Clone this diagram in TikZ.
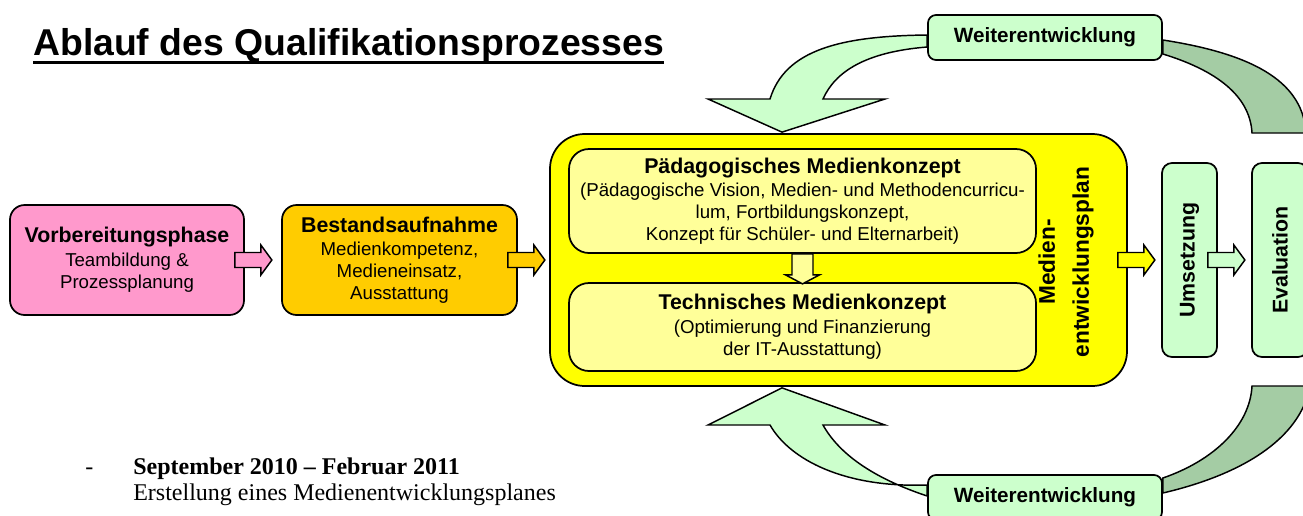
\documentclass[tikz,border=0pt]{standalone}
\usepackage{fontspec}
\setmainfont{Liberation Sans}
\newfontfamily\serifschrift{Liberation Serif}
\usetikzlibrary{calc,backgrounds}

\tikzset{
  kasten/.style={draw, line width=1.3pt, align=center, inner sep=0pt},
  blockpfeil/.style={draw, line width=1.1pt, line join=miter},
  bogen/.style={draw, line width=1.1pt},
}

\begin{document}
\begin{tikzpicture}[x=0.75pt, y=-0.75pt]
  % Farben
  \definecolor{rosa}{HTML}{FF99CC}
  \definecolor{orange}{HTML}{FFCC00}
  \definecolor{gelb}{HTML}{FFFF00}
  \definecolor{hellgelb}{HTML}{FFFF99}
  \definecolor{hellgruen}{HTML}{CCFFCC}
  \definecolor{dunkelgruen}{HTML}{A4CCA4}

  % Schriften
  \def\fett{\fontsize{16}{18}\selectfont\bfseries}
  \def\normal{\fontsize{14}{16.5}\selectfont}
  \def\serif{\serifschrift\fontsize{18}{20}\selectfont}

  \useasboundingbox (0,0) rectangle (1303,515);
  \clip (0,0) rectangle (1303,515);

  % Titel
  \node[anchor=base west, inner sep=0pt, font=\fontsize{28}{30}\selectfont\bfseries] (titel) at (33,55) {Ablauf des Qualifikationsprozesses};
  \draw[line width=2.25pt] ($(titel.base west)+(0,7)$) -- ($(titel.base east)+(0,7)$);

  % Phasen
  \node[kasten, fill=rosa, rounded corners=11pt, minimum width=175.5pt, minimum height=82.5pt, font=\normal] (vorb) at (127,260)
    {{\fett Vorbereitungsphase}\\[1.5pt] Teambildung \&\\ Prozessplanung};
  \node[kasten, fill=orange, rounded corners=11pt, minimum width=176.25pt, minimum height=82.5pt, font=\normal] (best) at (399.5,260)
    {{\fett Bestandsaufnahme}\\[0.5pt] Medienkompetenz,\\ Medieneinsatz,\\ Ausstattung};

  % Medienentwicklungsplan
  \node[kasten, fill=gelb, rounded corners=26pt, minimum width=432.75pt, minimum height=189pt] (plan) at (838.5,260) {};
  \node[kasten, fill=hellgelb, rounded corners=15pt, minimum width=350.25pt, minimum height=78pt, font=\normal] (paed) at (802.5,201)
    {{\fett Pädagogisches Medienkonzept}\\[0.5pt] (Pädagogische Vision, Medien- und Methodencurricu-\\ lum, Fortbildungskonzept,\\ Konzept für Schüler- und Elternarbeit)};
  \node[kasten, fill=hellgelb, rounded corners=15pt, minimum width=350.25pt, minimum height=66pt, font=\normal] (tech) at (802.5,327)
    {{\fett Technisches Medienkonzept}\\[1.5pt] (Optimierung und Finanzierung\\ der IT-Ausstattung)};
  \node[rotate=90, align=center, font=\fontsize{17}{25.5}\selectfont\bfseries] (planText) at (1066,262) {Medien-\\entwicklungsplan};

  % Umsetzung und Evaluation
  \node[kasten, fill=hellgruen, rounded corners=7.5pt, minimum width=41.25pt, minimum height=145.5pt] (ums) at (1189.5,260) {};
  \node[rotate=90, font=\fett] (umsText) at (ums) {Umsetzung};
  \node[kasten, fill=hellgruen, rounded corners=7.5pt, minimum width=42pt, minimum height=145.5pt] (eval) at (1280,260) {};
  \node[rotate=90, font=\fett] (evalText) at (eval) {Evaluation};

  % Weiterentwicklung
  \node[kasten, fill=hellgruen, rounded corners=6pt, minimum width=175.5pt, minimum height=33.75pt, font=\fontsize{15.5}{17}\selectfont\bfseries] (weiterOben) at (1045,37.5) {Weiterentwicklung};
  \node[kasten, fill=hellgruen, rounded corners=6pt, minimum width=175.5pt, minimum height=33.75pt, font=\fontsize{15.5}{17}\selectfont\bfseries] (weiterUnten) at (1045,497.5) {Weiterentwicklung};

  % Blockpfeile
  \foreach \von/\farbe in {vorb/rosa, best/orange, plan/gelb, ums/hellgruen}
    \draw[blockpfeil, fill=\farbe] ($(\von.east)+(-10,-7.5)$) -- ++(26,0) -- ++(0,-7.5) -- ++(11,15) -- ++(-11,15) -- ++(0,-7.5) -- ++(-26,0) -- cycle;
  \draw[blockpfeil, fill=hellgelb] ($(paed.south)+(-10.5,0)$) -- ++(0,21) -- ++(-6.5,0) -- ++(17,9) -- ++(17,-9) -- ++(-6.5,0) -- ++(0,-21) -- cycle;

  % Kreislauf
  \begin{pgfonlayer}{background}
    \coordinate (spitzeOben) at ($(plan.north)+(-56.5,-1)$);
    \coordinate (spitzeUnten) at ($(plan.south)+(-56.5,1)$);
    \draw[bogen, fill=hellgruen] ($(weiterOben.west)+(0,-2.5)$) .. controls (840,36) and (785,50) .. (770,99) -- (708,99) -- (spitzeOben)
      -- (885,99) -- (823,99) .. controls (835,72) and (865,52) .. ($(weiterOben.west)+(0,9.5)$) -- cycle;
    \draw[bogen, fill=hellgruen] ($(weiterUnten.west)+(0,-1.5)$) .. controls (870,477) and (838,452) .. (823,425) -- (885,425) -- (spitzeUnten)
      -- (708,425) -- (770,425) .. controls (790,460) and (845,488) .. ($(weiterUnten.west)+(0,-12.5)$) -- cycle;
    \draw[bogen, fill=dunkelgruen] ($(weiterOben.east)+(0,2.5)$) .. controls (1260,55) and (1303,85) .. (1306,133) -- (1252,133)
      .. controls (1250,95) and (1215,70) .. ($(weiterOben.east)+(0,16.5)$) -- cycle;
    \draw[bogen, fill=dunkelgruen] ($(weiterUnten.west -| weiterUnten.east)+(0,-19.5)$) .. controls (1215,460) and (1250,425) .. (1252,386) -- (1310,386)
      .. controls (1300,440) and (1240,475) .. ($(weiterUnten.east)+(0,-4.5)$) -- cycle;
  \end{pgfonlayer}

  % Zeitraum
  \node[anchor=base west, inner sep=0pt, font=\serif] (strich) at (85,474) {-};
  \node[anchor=base west, inner sep=0pt, font=\serif\bfseries] (zeitraum) at (133,474) {September 2010 – Februar 2011};
  \node[anchor=base west, inner sep=0pt, font=\serif] (aufgabe) at (133,500) {Erstellung eines Medienentwicklungsplanes};
\end{tikzpicture}
\end{document}
